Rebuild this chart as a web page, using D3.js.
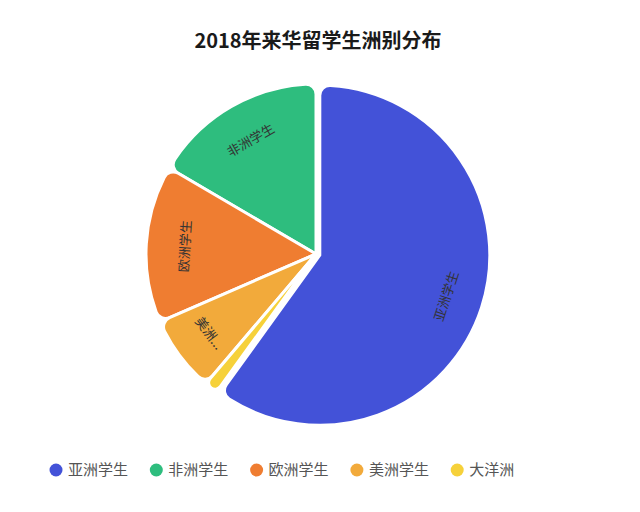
<!DOCTYPE html>
<meta charset="utf-8">
<style>
body { margin: 0; background: #fff; }
.title-text {
  font: bold 20px "Noto Sans CJK SC", sans-serif;
  fill: #1a1a1a;
}
.slice-label {
  font: 13px "Noto Sans CJK SC", sans-serif;
  fill: #333;
}
.legend-text {
  font: 15px "Noto Sans CJK SC", sans-serif;
  fill: #555;
}
</style>
<body>
<div id="chartarea"></div>
<script src="https://cdn.jsdelivr.net/npm/d3@7"></script>
<script>

// data: 2018 international students in China, by continent
var categories = ["亚洲学生", "非洲学生", "欧洲学生", "美洲学生", "大洋洲"];
var students = [295043, 81562, 73618, 35733, 6229];
var colors = ["#4352d8", "#2ebd7e", "#ef7d31", "#f2aa3b", "#f6d13a"];

var width = 640, height = 512;
var cx = 316, cy = 254, radius = 170;

var svg = d3.select("#chartarea").append("svg")
    .attr("width", width)
    .attr("height", height);

svg.append("text")
    .attr("class", "title-text")
    .attr("x", 318)
    .attr("y", 48)
    .attr("text-anchor", "middle")
    .text("2018年来华留学生洲别分布");

var total = d3.sum(students);

// slices run counter-clockwise, asia ends at 12 o'clock
var start = 2 * Math.PI * students[0] / total;
var pie = d3.pie()
    .sort(null)
    .startAngle(start)
    .endAngle(start - 2 * Math.PI)
    .value(function(d) { return d; });

var arc = d3.arc()
    .innerRadius(0)
    .outerRadius(radius)
    .cornerRadius(10);

var arcs = pie(students);

var g = svg.append("g")
    .attr("transform", "translate(" + cx + "," + cy + ")");

// asia slice is pulled out a little
function offset(d, i) {
  if (i !== 0) return "translate(0,0)";
  var a = (d.startAngle + d.endAngle) / 2;
  return "translate(" + (4 * Math.sin(a)) + "," + (-4 * Math.cos(a)) + ")";
}

var slices = g.selectAll(".slice")
    .data(arcs)
    .enter().append("g")
    .attr("class", "slice")
    .attr("transform", offset);

slices.append("path")
    .attr("d", arc)
    .attr("fill", function(d, i) { return colors[i]; })
    .attr("stroke", "#fff")
    .attr("stroke-width", 3)
    .attr("stroke-linejoin", "round");

// tangential labels, flipped in the lower half so they stay readable
var labelR = 132;
slices.append("text")
    .attr("class", "slice-label")
    .attr("text-anchor", "middle")
    .attr("dominant-baseline", "central")
    .attr("transform", function(d) {
      var a = (d.startAngle + d.endAngle) / 2;
      var x = labelR * Math.sin(a), y = -labelR * Math.cos(a);
      var rot = a * 180 / Math.PI;
      if (Math.cos(a) < 0) rot -= 180;
      return "translate(" + x + "," + y + ") rotate(" + rot + ")";
    })
    .text(function(d, i) {
      var share = d.value / total;
      if (share < 0.03) return "";
      if (share < 0.1) return categories[i].slice(0, 2) + "...";
      return categories[i];
    });

// legend
var legend = svg.selectAll(".legend")
    .data(categories)
    .enter().append("g")
    .attr("class", "legend")
    .attr("transform", function(d, i) { return "translate(" + (56 + i * 100.3) + ",470)"; });

legend.append("circle")
    .attr("r", 6.5)
    .attr("fill", function(d, i) { return colors[i]; });

legend.append("text")
    .attr("class", "legend-text")
    .attr("x", 12)
    .attr("dy", "0.35em")
    .text(function(d) { return d; });

</script>
